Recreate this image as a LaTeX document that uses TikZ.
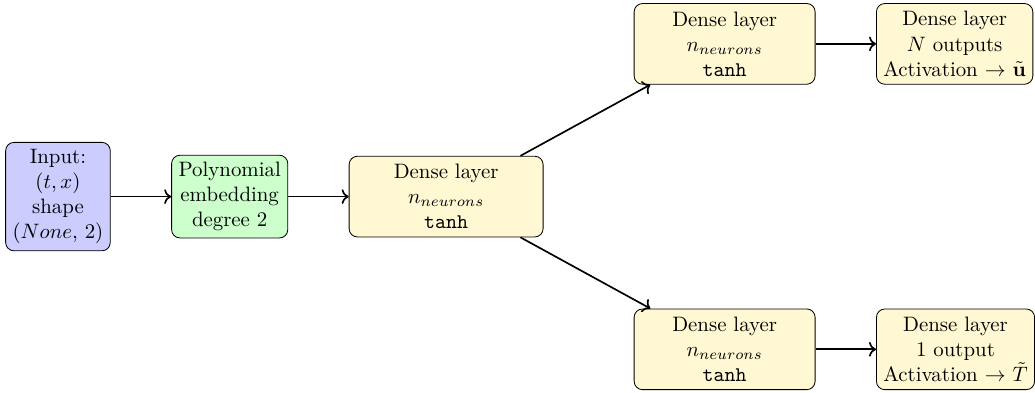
\documentclass[tikz,border=0pt]{standalone}
\usepackage{tikz}
\usetikzlibrary{positioning, arrows.meta, calc}
\usepackage{xcolor}
\definecolor{InputBlue}{HTML}{CCCCFF}
\definecolor{EmbedGreen}{HTML}{CCFFCC}
\definecolor{DenseCream}{HTML}{FFF8D2}

\begin{document}
\begin{tikzpicture}[
  node distance=1.02cm,
  inbox/.style={rectangle, rounded corners=4pt, draw, fill=InputBlue,
    align=center},
  embbox/.style={rectangle, rounded corners=4pt, draw, fill=EmbedGreen,
    align=center},
  densebox/.style={rectangle, rounded corners=4pt, draw, fill=DenseCream,
    align=center, minimum height=1.36cm, minimum width=3.05cm},
  arr/.style={->, thick}
]
  \node[inbox] (inp) {Input:\\$(t,x)$\\shape\\$(None,\,2)$};
  \node[embbox, right=of inp] (emb) {Polynomial\\embedding\\degree 2};
  \node[densebox, minimum width=3.27cm, right=of emb] (hid)
    {Dense layer\\$n_{neurons}$\\\texttt{tanh}};
  \node[densebox, above right=1.2cm and 1.52cm of hid] (hidu)
    {Dense layer\\$n_{neurons}$\\\texttt{tanh}};
  \node[densebox, below right=1.2cm and 1.52cm of hid] (hidT)
    {Dense layer\\$n_{neurons}$\\\texttt{tanh}};
  \node[densebox, minimum width=0pt, right=of hidu] (outu)
    {Dense layer\\$N$ outputs\\Activation $\rightarrow$ $\tilde{\mathbf{u}}$};
  \node[densebox, minimum width=0pt, right=of hidT] (outT)
    {Dense layer\\1 output\\Activation $\rightarrow$ $\tilde{T}$};

  \draw[arr] (inp) -- (emb);
  \draw[arr] (emb) -- (hid);
  \draw[arr] (hid) -- (hidu);
  \draw[arr] (hid) -- (hidT);
  \draw[arr] (hidu) -- (outu);
  \draw[arr] (hidT) -- (outT);

  \path ($(inp.west |- hidT.south)+(-2.5pt,-1pt)$)
    rectangle ($(outu.east |- hidu.north)+(0.3pt,1.5pt)$);
\end{tikzpicture}
\end{document}
